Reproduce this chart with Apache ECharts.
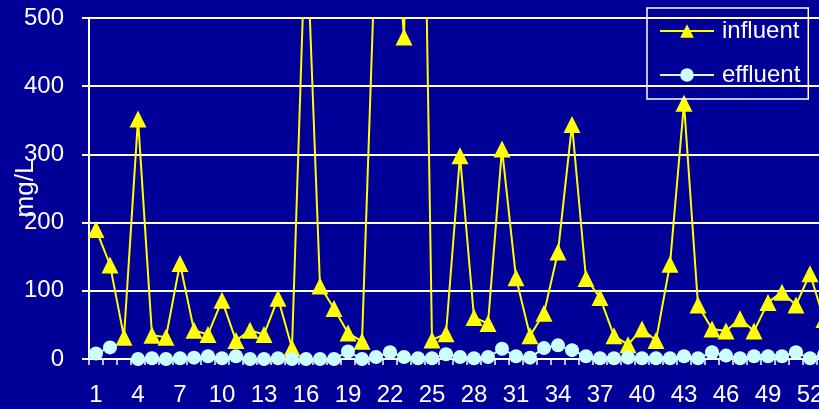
<!DOCTYPE html>
<html>
<head>
<meta charset="utf-8">
<style>
  html, body { margin: 0; padding: 0; background: #000099; }
  #chart { width: 819px; height: 409px; }
</style>
<script src="https://cdn.jsdelivr.net/npm/echarts@6/dist/echarts.min.js"></script>
</head>
<body>
<div id="chart"></div>
<script>
// week numbers (last one is cut off by the right edge)
const weeks = ['1', '2', '3', '4', '5', '6', '7', '8', '9', '10',
  '11', '12', '13', '14', '15', '16', '17', '18', '19', '20',
  '21', '22', '23', '24', '25', '26', '27', '28', '29', '30',
  '31', '32', '33', '34', '35', '36', '37', '38', '39', '40',
  '41', '42', '43', '44', '45', '46', '47', '48', '49', '50',
  '51', '52', '53']

// mg/L, values above 500 run off the top of the plot
const influent = [190, 138, 32, 352, 35, 32, 140, 42, 36, 86,
  27, 42, 36, 89, 16, 650, 107, 74, 38, 26,
  630, 750, 472, 1300, 28, 37, 298, 61, 52, 308,
  119, 34, 67, 157, 344, 118, 90, 34, 21, 44,
  27, 139, 375, 79, 44, 41, 59, 41, 83, 98,
  79, 125, 58]

const effluent = [8, 17, null, 0, 1, 0, 1, 2, 4, 1,
  4, 0, 0, 1, 0, 0, 0, 0, 11, 0,
  3, 10, 3, 1, 1, 7, 3, 1, 3, 15,
  4, 2, 16, 20, 13, 4, 1, 1, 2, 1,
  1, 1, 4, 1, 10, 5, 1, 4, 4, 4,
  10, 1, 6]

const font = 'Liberation Sans, Arial, sans-serif'

const chart = echarts.init(document.getElementById('chart'))
chart.setOption({
  backgroundColor: '#000099',
  animation: false,
  grid: {
    left: 89,
    right: -12,
    top: 18,
    bottom: 50,
    containLabel: false,
    outerBoundsMode: 'none'
  },
  legend: {
    orient: 'vertical',
    left: 647,
    top: 8,
    padding: [11, 8, 12, 12],
    itemGap: 20,
    itemWidth: 54,
    itemHeight: 17,
    borderColor: '#ffffff',
    borderWidth: 1.5,
    textStyle: {
      color: '#ffffff',
      fontSize: 24,
      fontFamily: font,
      padding: [0, 0, 0, 3]
    },
    data: ['influent', 'effluent']
  },
  xAxis: {
    type: 'category',
    data: weeks,
    boundaryGap: true,
    axisLine: { lineStyle: { color: '#ffffff', width: 2 } },
    axisTick: {
      show: true,
      interval: 0,
      length: 6,
      lineStyle: { color: '#ffffff', width: 1.5 }
    },
    axisLabel: {
      interval: 2,
      color: '#ffffff',
      fontSize: 24,
      fontFamily: font,
      margin: 24
    },
    splitLine: { show: false }
  },
  yAxis: {
    type: 'value',
    min: 0,
    max: 500,
    interval: 100,
    name: 'mg/L',
    nameLocation: 'middle',
    nameGap: 50,
    nameMoveOverlap: false,
    nameTextStyle: {
      color: '#ffffff',
      fontSize: 26,
      fontFamily: font
    },
    axisLine: { show: true, lineStyle: { color: '#ffffff', width: 2 } },
    axisTick: { show: true, length: 7, lineStyle: { color: '#ffffff', width: 2 } },
    axisLabel: {
      color: '#ffffff',
      fontSize: 24,
      fontFamily: font,
      margin: 25
    },
    splitLine: { lineStyle: { color: '#ffffff', width: 2 } }
  },
  series: [{
    name: 'influent',
    type: 'line',
    data: influent,
    symbol: 'triangle',
    symbolSize: 17,
    showAllSymbol: true,
    clip: true,
    lineStyle: { color: '#ffff00', width: 2 },
    itemStyle: { color: '#ffff00' }
  }, {
    name: 'effluent',
    type: 'line',
    data: effluent,
    symbol: 'circle',
    symbolSize: 14,
    showAllSymbol: true,
    clip: true,
    lineStyle: { color: '#ccffff', width: 2 },
    itemStyle: { color: '#ccffff' }
  }]
})
</script>
</body>
</html>
